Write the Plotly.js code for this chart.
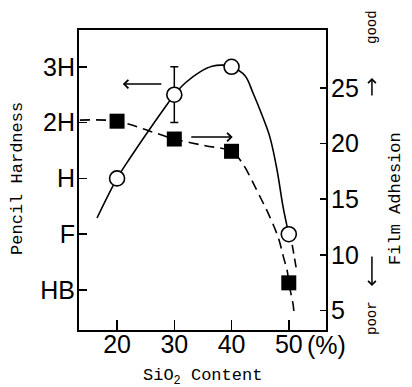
<!DOCTYPE html>
<html>
<head>
<meta charset="utf-8">
<script src="https://cdn.plot.ly/plotly-3.0.1.min.js"></script>
<style>html,body{margin:0;padding:0;background:#fff;}#chart{width:412px;height:387px;}</style>
</head>
<body>
<div id="chart"></div>
<script>
// SiO2 content (%)
const silica = [20, 30, 40, 50];
// Pencil hardness (1=HB, 2=F, 3=H, 4=2H, 5=3H)
const hardness = [3.0, 4.5, 5.0, 2.0];
const hardnessErr = [0, 0.5, 0, 0];
// Film adhesion
const adhesion = [22, 20.4, 19.3, 7.5];

// Hand-drawn trend curves (data units)
const hardCurveX = [16.5, 20, 22.3, 28.7, 30, 31.9, 34.5, 36.6, 38.5, 40, 42.35, 43.75, 45.3, 46.7, 47.95, 49.0, 50];
const hardCurveY = [2.29, 3.0, 3.37, 4.32, 4.5, 4.71, 4.91, 5.01, 5.03, 5.0, 4.84, 4.53, 4.14, 3.74, 3.15, 2.49, 2.0];
const hardExtX = [50.6, 51.35];
const hardExtY = [1.81, 1.36];
const adhCurveX = [13.5, 20, 25.75, 30, 35.4, 40, 41.8, 45.0, 46.7, 48.2, 49.05, 49.75, 50, 50.8, 50.9];
const adhCurveY = [22.1, 22, 21.1, 20.4, 19.8, 19.3, 18.3, 15.2, 13.4, 11.5, 9.85, 8.5, 7.5, 5.4, 4.5];

// Tick labels
const hardTickVals = [1, 2, 3, 4, 5];
const hardTickText = ['HB', 'F', 'H', '2H', '3H'];
const adhTickVals = [5, 10, 15, 20, 25];
const xTickVals = [20, 30, 40, 50];

const tickFont = {family: 'Liberation Sans, Arial, sans-serif', size: 25, color: '#000'};
const monoFont = {family: 'Liberation Mono, Courier New, monospace', size: 17, color: '#000'};
const smallMono = {family: 'Liberation Mono, Courier New, monospace', size: 14, color: '#000'};

const traces = [
  {x: hardCurveX, y: hardCurveY, mode: 'lines', line: {color: '#000', width: 1.6, shape: 'spline', smoothing: 1}, yaxis: 'y', hoverinfo: 'skip'},
  {x: hardExtX, y: hardExtY, mode: 'lines', line: {color: '#000', width: 1.6, dash: '9px,5px'}, yaxis: 'y', hoverinfo: 'skip'},
  {x: adhCurveX, y: adhCurveY, mode: 'lines', line: {color: '#000', width: 1.6, dash: '10px,6px', shape: 'spline', smoothing: 1}, yaxis: 'y2', hoverinfo: 'skip'},
  {x: silica, y: adhesion, mode: 'markers', marker: {symbol: 'square', size: 15, color: '#000'}, yaxis: 'y2'},
  {x: silica, y: hardness, mode: 'markers', marker: {size: 1, color: 'rgba(0,0,0,0)'},
   error_y: {type: 'data', array: hardnessErr, visible: true, color: '#000', thickness: 1.5, width: 4}, yaxis: 'y'},
  {x: silica, y: hardness, mode: 'markers', marker: {symbol: 'circle', size: 15, color: '#fff', line: {color: '#000', width: 1.6}}, yaxis: 'y'}
];

const layout = {
  width: 412, height: 387,
  margin: {l: 79, r: 86, t: 30, b: 57},
  paper_bgcolor: '#fff', plot_bgcolor: '#fff',
  showlegend: false,
  xaxis: {range: [13.35, 56.5], tickvals: xTickVals, ticks: 'inside', ticklen: 10, tickwidth: 1.5, tickcolor: '#000', ticklabelstandoff: -9,
          showline: true, linewidth: 2, linecolor: '#000', mirror: true, showgrid: false, zeroline: false, tickfont: tickFont},
  yaxis: {range: [0.283, 5.66], tickvals: hardTickVals, ticktext: hardTickText, ticks: 'inside', ticklen: 8, tickwidth: 1.5, tickcolor: '#000', ticklabelstandoff: -3,
          showline: true, linewidth: 2, linecolor: '#000', mirror: true, showgrid: false, zeroline: false, tickfont: tickFont},
  yaxis2: {range: [3.27, 30.18], overlaying: 'y', side: 'right', tickvals: adhTickVals, ticks: 'inside', ticklen: 6, tickwidth: 1.5, tickcolor: '#000', ticklabelstandoff: -2,
           showline: true, linewidth: 2, linecolor: '#000', showgrid: false, zeroline: false, tickfont: tickFont},
  annotations: [
    {xref: 'x', yref: 'y', axref: 'x', ayref: 'y', x: 21.0, y: 4.69, ax: 28.0, ay: 4.69, showarrow: true, arrowhead: 4, arrowsize: 1.1, arrowwidth: 1.5, arrowcolor: '#000', text: ''},
    {xref: 'x', yref: 'y', axref: 'x', ayref: 'y', x: 40.2, y: 3.74, ax: 32.7, ay: 3.74, showarrow: true, arrowhead: 4, arrowsize: 1.1, arrowwidth: 1.5, arrowcolor: '#000', text: ''},
    {xref: 'paper', yref: 'paper', x: 1.186, y: 0.84, ax: 0, ay: 19, showarrow: true, arrowhead: 4, arrowsize: 1, arrowwidth: 1.5, arrowcolor: '#000', text: ''},
    {xref: 'paper', yref: 'paper', x: 1.186, y: 0.147, ax: 0, ay: -31, showarrow: true, arrowhead: 4, arrowsize: 1, arrowwidth: 1.5, arrowcolor: '#000', text: ''},
    {xref: 'paper', yref: 'paper', x: 1.186, y: 1.01, text: 'good', textangle: -90, showarrow: false, font: smallMono, xanchor: 'center', yanchor: 'middle'},
    {xref: 'paper', yref: 'paper', x: 1.186, y: 0.04, text: 'poor', textangle: -90, showarrow: false, font: smallMono, xanchor: 'center', yanchor: 'middle'},
    {xref: 'paper', yref: 'paper', x: 1.279, y: 0.44, text: 'Film Adhesion', textangle: -90, showarrow: false, font: monoFont, xanchor: 'center', yanchor: 'middle'},
    {xref: 'paper', yref: 'paper', x: -0.247, y: 0.507, text: 'Pencil Hardness', textangle: -90, showarrow: false, font: monoFont, xanchor: 'center', yanchor: 'middle'},
    {xref: 'paper', yref: 'paper', x: 0.502, y: -0.155, text: 'SiO<sub>2</sub> Content', showarrow: false, font: monoFont, xanchor: 'center', yanchor: 'middle'},
    {xref: 'x', yref: 'paper', x: 50, y: -0.05, xshift: 16, text: '(%)', showarrow: false, font: tickFont, xanchor: 'left', yanchor: 'middle'}
  ]
};

Plotly.newPlot('chart', traces, layout, {staticPlot: true, displayModeBar: false});
</script>
</body>
</html>
